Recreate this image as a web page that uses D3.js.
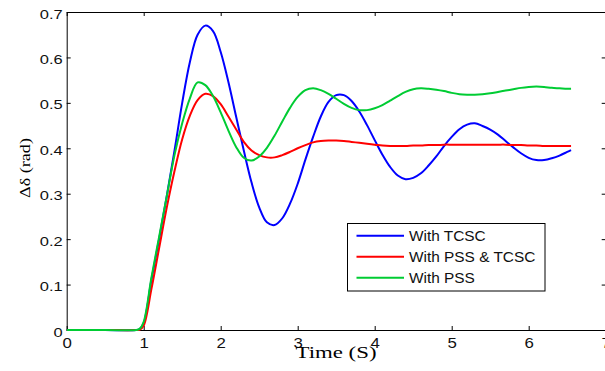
<!DOCTYPE html>
<html>
<head>
<meta charset="utf-8">
<script src="https://cdn.jsdelivr.net/npm/d3@7"></script>
<style>
  body { margin: 0; background: #fff; }
  svg { display: block; }
  .tick text { font-family: "Liberation Sans", Arial, sans-serif; fill: #111; }
</style>
</head>
<body>
<div id="chart"></div>
<script>
// time samples (s) and rotor angle deviation for each controller case
var time = [0, 0.5, 0.9, 0.95, 1.0, 1.1, 1.2, 1.3, 1.4, 1.5, 1.6, 1.7, 1.8, 1.9,
  2.0, 2.1, 2.2, 2.3, 2.4, 2.5, 2.6, 2.7, 2.8, 2.9, 3.0, 3.1, 3.2, 3.3, 3.4, 3.5,
  3.6, 3.7, 3.8, 3.9, 4.0, 4.1, 4.2, 4.3, 4.4, 4.5, 4.6, 4.7, 4.8, 4.9, 5.0, 5.1,
  5.2, 5.3, 5.4, 5.5, 5.6, 5.7, 5.8, 5.9, 6.0, 6.1, 6.2, 6.3, 6.4, 6.5, 6.55];

var withTCSC = [0, 0, 0, 0.002, 0.015, 0.11, 0.20, 0.295, 0.395, 0.50, 0.59, 0.65, 0.67, 0.658,
  0.612, 0.546, 0.47, 0.395, 0.325, 0.27, 0.237, 0.231, 0.246, 0.278, 0.322, 0.375, 0.425, 0.47, 0.502, 0.517,
  0.517, 0.504, 0.481, 0.451, 0.418, 0.386, 0.359, 0.34, 0.332, 0.335, 0.345, 0.362, 0.382, 0.405, 0.425, 0.442,
  0.452, 0.455, 0.449, 0.441, 0.43, 0.416, 0.402, 0.389, 0.379, 0.374, 0.374, 0.378, 0.384, 0.392, 0.396];

var withPssTcsc = [0, 0, 0, 0.001, 0.01, 0.09, 0.18, 0.27, 0.35, 0.42, 0.472, 0.506, 0.52, 0.515,
  0.497, 0.47, 0.442, 0.414, 0.395, 0.385, 0.38, 0.38, 0.385, 0.392, 0.40, 0.407, 0.413, 0.416, 0.417, 0.417,
  0.416, 0.414, 0.412, 0.41, 0.408, 0.406, 0.405, 0.405, 0.405, 0.406, 0.406, 0.407, 0.407, 0.408, 0.408, 0.408,
  0.408, 0.408, 0.408, 0.408, 0.408, 0.408, 0.407, 0.407, 0.406, 0.406, 0.405, 0.405, 0.405, 0.405, 0.405];

var withPSS = [0, 0, 0, 0.003, 0.018, 0.115, 0.205, 0.295, 0.385, 0.455, 0.51, 0.545, 0.539, 0.515,
  0.479, 0.439, 0.403, 0.379, 0.373, 0.382, 0.401, 0.428, 0.459, 0.489, 0.513, 0.528, 0.532, 0.528, 0.52, 0.509,
  0.498, 0.489, 0.484, 0.484, 0.488, 0.495, 0.505, 0.515, 0.524, 0.53, 0.532, 0.531, 0.529, 0.526, 0.522, 0.519,
  0.518, 0.518, 0.519, 0.521, 0.524, 0.527, 0.53, 0.533, 0.535, 0.536, 0.535, 0.533, 0.532, 0.531, 0.531];

var seriesNames = ["With TCSC", "With PSS & TCSC", "With PSS"];
var seriesColors = ["#0000ff", "#ff0000", "#00cc33"];
var xTicks = [0, 1, 2, 3, 4, 5, 6, 7];
var yTicks = [0, 0.1, 0.2, 0.3, 0.4, 0.5, 0.6, 0.7];

var svgWidth = 605;
var svgHeight = 371;
var margin = { top: 12, left: 66.7 };
var width = 539;
var height = 318;

var svg = d3.select("#chart")
  .append("svg")
  .attr("width", svgWidth)
  .attr("height", svgHeight);

var chartGroup = svg.append("g")
  .attr("transform", `translate(${margin.left}, ${margin.top})`);

// widen a text a little, the source picture is stretched sideways
function stretchText(sel, k) {
  sel.each(function() {
    var w = this.getComputedTextLength();
    d3.select(this).attr("textLength", w * k).attr("lengthAdjust", "spacingAndGlyphs");
  });
}

// scales
var xScale = d3.scaleLinear().domain([0, 7]).range([0, width]);
var yScale = d3.scaleLinear().domain([0, 0.7]).range([height, 0]);

var yFormat = d => d === 0 ? "0" : d3.format(".1f")(d);

// axes, ticks pointing inward like MATLAB
var xAxis = chartGroup.append("g")
  .attr("transform", `translate(0, ${height})`)
  .call(d3.axisBottom(xScale).tickValues(xTicks).tickFormat(d3.format("d"))
    .tickSize(-4).tickSizeOuter(0).tickPadding(7));
xAxis.selectAll("text").style("font-size", "15px");
stretchText(xAxis.selectAll("text"), 1.12);

var yAxis = chartGroup.append("g")
  .call(d3.axisLeft(yScale).tickValues(yTicks).tickFormat(yFormat)
    .tickSize(-4).tickSizeOuter(0).tickPadding(4));
yAxis.selectAll("text").style("font-size", "13.5px").attr("dy", "0.45em");
stretchText(yAxis.selectAll("text"), 1.22);

chartGroup.append("g")
  .call(d3.axisTop(xScale).tickValues(xTicks).tickFormat("").tickSize(-4).tickSizeOuter(0));

chartGroup.append("g")
  .attr("transform", `translate(${width}, 0)`)
  .call(d3.axisRight(yScale).tickValues(yTicks).tickFormat("").tickSize(-4).tickSizeOuter(0));

chartGroup.selectAll(".domain").attr("stroke", "#000");
chartGroup.selectAll(".tick line").attr("stroke", "#000");

// lines
var line = d3.line()
  .x((d, i) => xScale(time[i]))
  .y(d => yScale(d))
  .curve(d3.curveCatmullRom.alpha(0.5));

var allSeries = [withTCSC, withPssTcsc, withPSS];

chartGroup.selectAll(".series")
  .data(allSeries)
  .enter()
  .append("path")
  .attr("class", "series")
  .attr("fill", "none")
  .attr("stroke", (d, i) => seriesColors[i])
  .attr("stroke-width", 2)
  .attr("d", line);

// legend
var legend = svg.append("g")
  .attr("transform", "translate(347.5, 223.5)");

legend.append("rect")
  .attr("width", 197.5)
  .attr("height", 67.5)
  .attr("fill", "#fff")
  .attr("stroke", "#000");

var legendRows = legend.selectAll(".row")
  .data(seriesNames)
  .enter()
  .append("g")
  .attr("class", "row")
  .attr("transform", (d, i) => `translate(0, ${12.3 + i * 21})`);

legendRows.append("line")
  .attr("x1", 9)
  .attr("x2", 56.5)
  .attr("stroke", (d, i) => seriesColors[i])
  .attr("stroke-width", 2);

var legendText = legendRows.append("text")
  .attr("x", 61.5)
  .attr("dy", "0.36em")
  .style("font-family", "'Liberation Sans', Arial, sans-serif")
  .style("font-size", "14px")
  .style("fill", "#111")
  .text(d => d);
stretchText(legendText, 1.1);

// axis labels
var xLabel = svg.append("text")
  .attr("x", 336)
  .attr("y", 358)
  .attr("text-anchor", "middle")
  .style("font-family", "'Liberation Serif', 'Times New Roman', serif")
  .style("font-size", "16px")
  .text("Time (S)");
xLabel.attr("textLength", 81).attr("lengthAdjust", "spacingAndGlyphs");

var yLabel = svg.append("text")
  .attr("transform", "translate(29.5, 168) rotate(-90)")
  .attr("text-anchor", "middle")
  .style("font-family", "'Liberation Serif', 'Times New Roman', serif")
  .style("font-size", "14.5px")
  .text("Δδ (rad)");
yLabel.attr("textLength", 60).attr("lengthAdjust", "spacingAndGlyphs");
</script>
</body>
</html>
